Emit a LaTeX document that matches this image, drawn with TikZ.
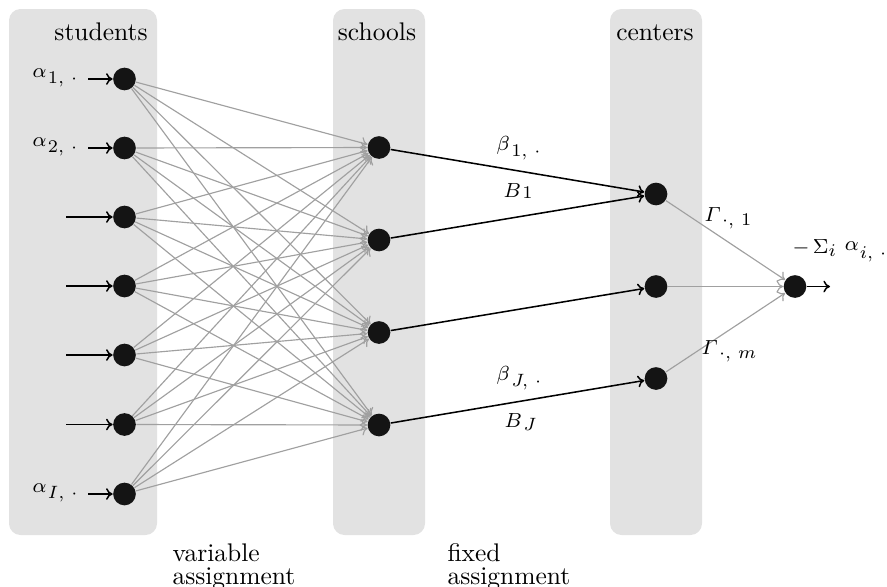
\documentclass[tikz,border=0pt]{standalone}
\usetikzlibrary{arrows.meta}
\definecolor{panelgray}{HTML}{E2E2E2}
\definecolor{edgegray}{HTML}{A0A0A0}
\definecolor{nodefill}{HTML}{141414}
\newcommand\itGamma{\mathchar"0100}
\newcommand\lb[3]{$#1$\kern0.6pt\raisebox{#3}{\scriptsize$#2$}}
\begin{document}
\begin{tikzpicture}[x=0.3922pt,y=-0.3922pt,
  dot/.style={circle,fill=nodefill,inner sep=0pt,minimum size=8.9pt},
  panel/.style={fill=panelgray,rounded corners=4.5pt},
  garrow/.style={-{To[length=2.6pt,width=4.6pt]},draw=edgegray,line width=0.45pt},
  barrow/.style={-{To[length=2.6pt,width=4.6pt]},draw=black,line width=0.6pt},
  lab/.style={font=\footnotesize,inner sep=0pt,anchor=base west},
  title/.style={anchor=base,inner sep=0pt}]
\useasboundingbox (0,0) rectangle (887,587);
% panels
\fill[panel] (9,9) rectangle (157,535);
\fill[panel] (333,9) rectangle (425,535);
\fill[panel] (610,9) rectangle (702,535);
\node[title] (tstud) at (101,40) {students};
\node[title] (tsch) at (377,40) {schools};
\node[title] (tcen) at (655,40) {centers};
% students
\foreach \i/\y in {1/79,2/148,3/217,4/286,5/355,6/424.5,7/494}{
  \node[dot] (s\i) at (124.5,\y) {};
}
% schools
\foreach \j/\y in {1/147.5,2/240,3/332.5,4/425}{
  \node[dot] (h\j) at (379,\y) {};
}
% centers
\foreach \k/\y in {1/194,2/286.5,3/378.5}{
  \node[dot] (c\k) at (656,\y) {};
}
\node[dot] (sink) at (795,286.5) {};
\coordinate (out) at (830,286.5);
% inputs
\coordinate (in1) at (88,79);
\coordinate (in2) at (88,148);
\coordinate (in3) at (66,217);
\coordinate (in4) at (66,286);
\coordinate (in5) at (66,355);
\coordinate (in6) at (66,424.5);
\coordinate (in7) at (88,494);
\foreach \i in {1,...,7}{\draw[barrow] (in\i) -- (s\i);}
\node[lab] (la1) at (32,77) {\lb{\alpha}{1,\,\cdot}{-2.7pt}};
\node[lab] (la2) at (32,146) {\lb{\alpha}{2,\,\cdot}{-2.7pt}};
\node[lab] (laI) at (32,492) {\lb{\alpha}{I,\,\cdot}{-2.7pt}};
% variable assignment
\foreach \i in {1,...,7}{
  \foreach \j in {1,...,4}{
    \draw[garrow] (s\i) -- (h\j);
  }
}
% fixed assignment
\draw[barrow] (h1) -- (c1);
\draw[barrow] (h2) -- (c1);
\draw[barrow] (h3) -- (c2);
\draw[barrow] (h4) -- (c3);
% to sink
\foreach \k in {1,2,3}{\draw[garrow] (c\k) -- (sink);}
\draw[barrow] (sink) -- (out);
% labels
\node[lab] (lb1) at (496,150) {\lb{\beta}{1,\,\cdot}{-2.7pt}};
\node[lab] (lB1) at (503,197) {\lb{B}{1}{-0.6pt}};
\node[lab] (lbJ) at (496,380) {\lb{\beta}{J,\,\cdot}{-2.7pt}};
\node[lab] (lBJ) at (504,427) {\lb{B}{J}{-1.2pt}};
\node[lab] (lg1) at (704,221) {\lb{\itGamma}{\cdot,\,1}{-1.8pt}};
\node[lab] (lgm) at (701,354) {\lb{\itGamma}{\cdot,\,m}{-1.8pt}};
\node[lab] (lsum) at (792,253) {$-\,\Sigma$\raisebox{-1.5pt}{\scriptsize$i$}\hspace{3.5pt}\raisebox{0.8pt}{$\alpha$}\kern0.5pt\raisebox{-2pt}{\scriptsize$i,\,\cdot$}};
% bottom
\node[anchor=north west,align=left,inner sep=0pt] (var) at (172,543) {variable\\[-3pt]assignment};
\node[anchor=north west,align=left,inner sep=0pt] (fix) at (447,543) {fixed\\[-3pt]assignment};
\end{tikzpicture}
\end{document}
